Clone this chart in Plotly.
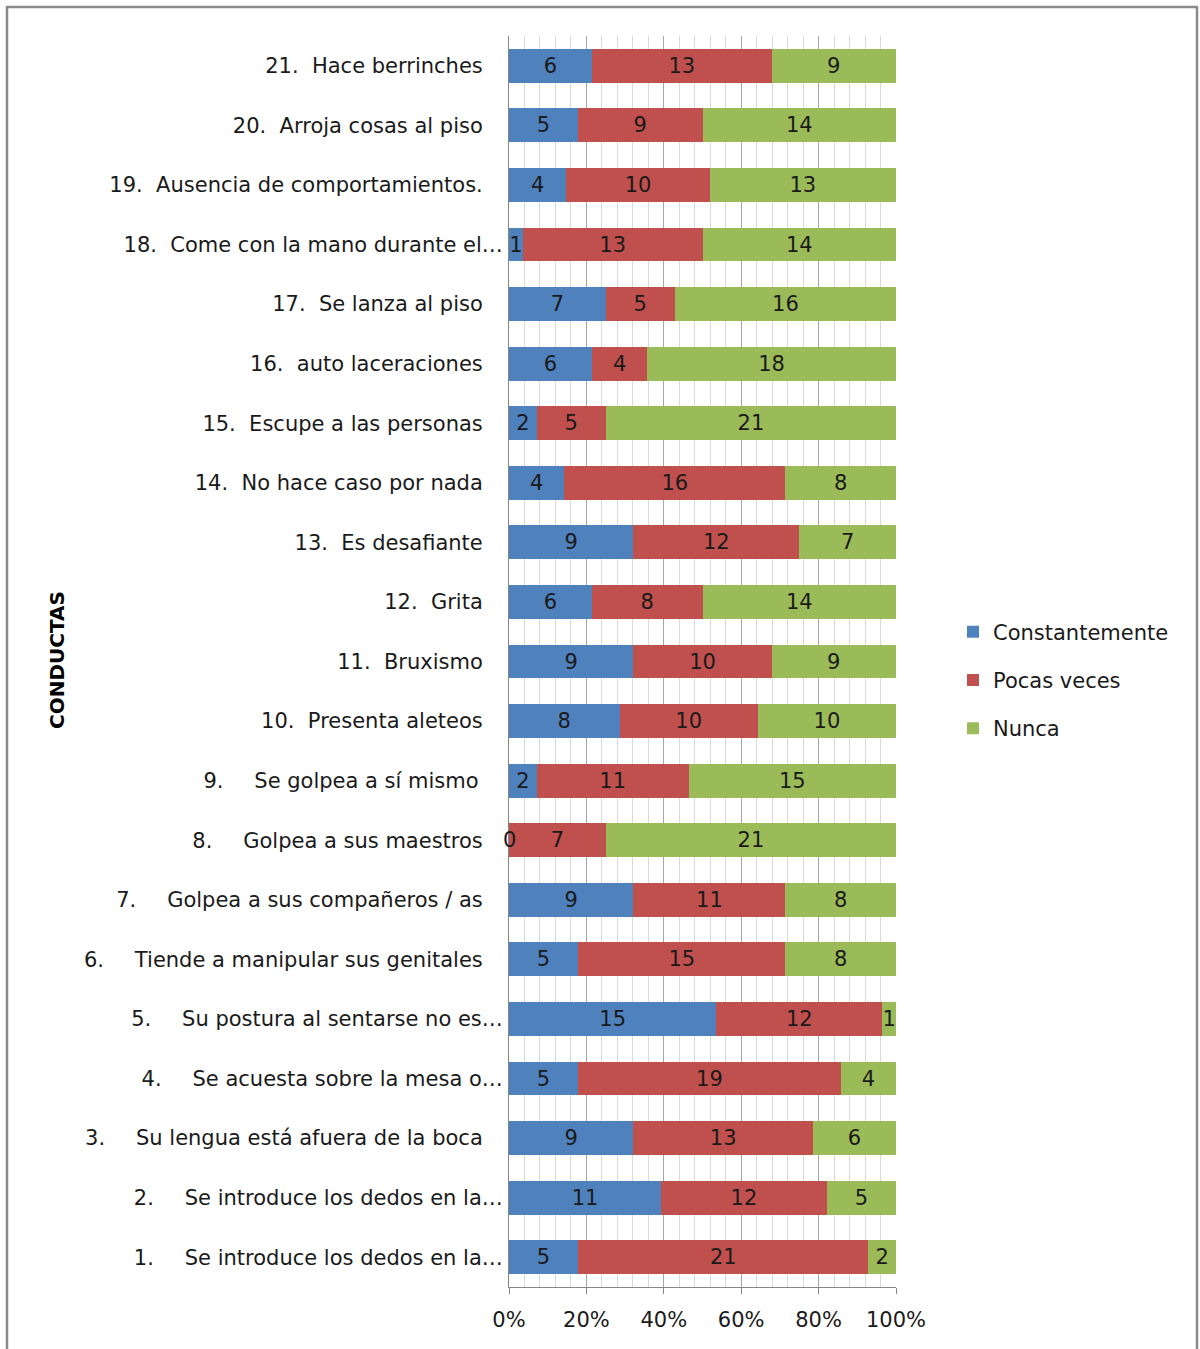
import plotly.graph_objects as go

NB = "\u00a0"
TH = "\u2009"
G1 = NB * 4 + TH      # gap after single-digit item number
G2 = NB * 2           # gap after two-digit item number
PAD = NB * 3          # right padding for labels that are not truncated

# Category labels (item 1 at bottom, item 21 at top)
labels = [
    "1." + G1 + "Se introduce los dedos en la…",
    "2." + G1 + "Se introduce los dedos en la…",
    "3." + G1 + "Su lengua está afuera de la boca" + PAD,
    "4." + G1 + "Se acuesta sobre la mesa o…",
    "5." + G1 + "Su postura al sentarse no es…",
    "6." + G1 + "Tiende a manipular sus genitales" + PAD,
    "7." + G1 + "Golpea a sus compañeros / as" + PAD,
    "8." + G1 + "Golpea a sus maestros" + PAD,
    "9." + G1 + "Se golpea a sí mismo" + PAD + TH,
    "10." + G2 + "Presenta aleteos" + PAD,
    "11." + G2 + "Bruxismo" + PAD,
    "12." + G2 + "Grita" + PAD,
    "13." + G2 + "Es desafiante" + PAD,
    "14." + G2 + "No hace caso por nada" + PAD,
    "15." + G2 + "Escupe a las personas" + PAD,
    "16." + G2 + "auto laceraciones" + PAD,
    "17." + G2 + "Se lanza al piso" + PAD,
    "18." + G2 + "Come con la mano durante el…",
    "19." + G2 + "Ausencia de comportamientos." + PAD,
    "20." + G2 + "Arroja cosas al piso" + PAD,
    "21." + G2 + "Hace berrinches" + PAD,
]

series_names = ["Constantemente", "Pocas veces", "Nunca"]

constantemente = [5, 11, 9, 5, 15, 5, 9, 0, 2, 8, 9, 6, 9, 4, 2, 6, 7, 1, 4, 5, 6]
pocas_veces = [21, 12, 13, 19, 12, 15, 11, 7, 11, 10, 10, 8, 12, 16, 5, 4, 5, 13, 10, 9, 13]
nunca = [2, 5, 6, 4, 1, 8, 8, 21, 15, 10, 9, 14, 7, 8, 21, 18, 16, 14, 13, 14, 9]

x_ticks = [0, 20, 40, 60, 80, 100]

colors = ["#4F81BD", "#C0504D", "#9BBB59"]
FONT = "DejaVu Sans"
FS = 21
TXT = "#1a1a1a"
W, H = 1200, 1349
ML, MR, MT, MB = 509, 304, 36, 62

fig = go.Figure()
all_series = [constantemente, pocas_veces, nunca]
for i, (name, vals) in enumerate(zip(series_names, all_series)):
    fig.add_trace(go.Bar(
        y=labels, x=vals, name=name, orientation="h",
        marker=dict(color=colors[i], line=dict(width=0)),
        text=[str(v) for v in vals], textposition="inside",
        insidetextanchor="middle", textangle=0,
        textfont=dict(family=FONT, size=FS, color=TXT),
        legendgroup=name,
    ))

# Zero-value labels (bar has no width, Excel still prints the value)
totals = [a + b + c for a, b, c in zip(*all_series)]
for j, lab in enumerate(labels):
    cum = 0
    for vals in all_series:
        if vals[j] == 0:
            fig.add_annotation(x=cum / totals[j] * 100, y=lab, text="0", showarrow=False,
                               xanchor="center", font=dict(family=FONT, size=FS, color=TXT))
        cum += vals[j]

pw = W - ML - MR
ph = H - MT - MB
fig.add_annotation(
    xref="paper", yref="paper", x=(57 - ML) / pw, y=(H - MB - 660) / ph,
    text="<b>CONDUCTAS</b>", textangle=-90, showarrow=False,
    font=dict(family=FONT, size=20, color="#000000"), xanchor="center", yanchor="middle",
)

# outer frame
fig.add_shape(type="rect", xref="paper", yref="paper",
              x0=(7 - ML) / pw, x1=(1197 - ML) / pw,
              y0=(H - MB - 1360) / ph, y1=(H - MB - 7) / ph,
              line=dict(color="#8A8A8A", width=2.5), fillcolor="rgba(0,0,0,0)", layer="above")

fig.update_layout(
    width=W, height=H,
    margin=dict(l=ML, r=MR, t=MT, b=MB),
    barmode="stack", barnorm="percent", bargap=0.43,
    plot_bgcolor="white", paper_bgcolor="white",
    font=dict(family=FONT, size=FS, color=TXT),
    uniformtext=dict(minsize=FS, mode="show"),
    legend=dict(
        x=(953 - ML) / pw, y=(H - MB - 680) / ph, xanchor="left", yanchor="middle",
        font=dict(family=FONT, size=FS, color=TXT),
        traceorder="grouped", tracegroupgap=18, bgcolor="rgba(0,0,0,0)",
    ),
    xaxis=dict(
        range=[0, 100], tickvals=x_ticks, ticktext=[f"{v}%" for v in x_ticks],
        showgrid=True, gridcolor="#A6A6A6", gridwidth=1,
        minor=dict(dtick=4, tick0=0, showgrid=True, gridcolor="#D9D9D9", gridwidth=1),
        showline=True, linecolor="#868686", linewidth=1,
        ticks="outside", ticklen=6, tickcolor="#868686",
        ticklabelstandoff=8,
        tickfont=dict(family=FONT, size=FS, color=TXT),
        zeroline=False, fixedrange=True,
    ),
    yaxis=dict(
        type="category", categoryorder="array", categoryarray=labels,
        showline=True, linecolor="#868686", linewidth=1,
        ticks="", showgrid=False, ticklabelstandoff=1,
        tickfont=dict(family=FONT, size=FS, color=TXT),
        range=[-0.5, len(labels) - 0.5],
    ),
)

fig.write_html("out.html")
